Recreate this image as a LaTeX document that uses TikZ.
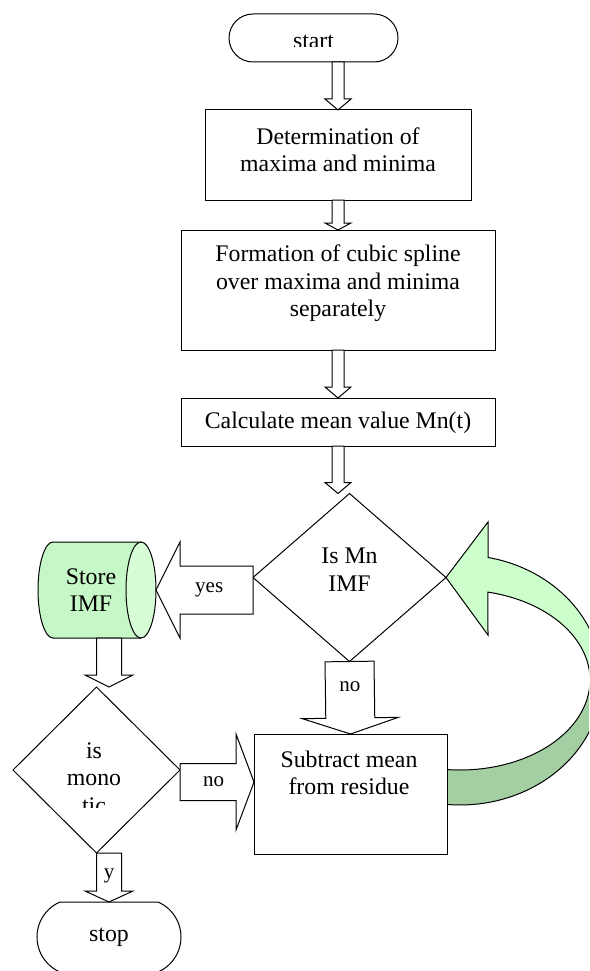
\documentclass[tikz,border=0pt]{standalone}
\usepackage{fontspec}
\setmainfont{Liberation Serif}
\usetikzlibrary{calc,shapes.geometric,shapes.misc}
\definecolor{mintlight}{HTML}{CCFFCC}
\definecolor{mintdark}{HTML}{A3CFA3}
\definecolor{mintbody}{HTML}{C6F7C6}
\definecolor{mintface}{HTML}{D6FDD6}
\tikzset{
	flowline/.style={line width=1pt, draw=black, line join=miter},
	terminal/.style={rounded rectangle, flowline, fill=white, outer sep=0pt, inner sep=0pt},
	procbox/.style={rectangle, flowline, fill=white, outer sep=0pt, inner sep=0pt},
	decision/.style={diamond, flowline, fill=white, outer sep=0pt, inner sep=0pt},
	flowtext/.style={font=\fontsize{23.8}{27.5}\selectfont, align=center, inner sep=0pt},
	arrowtext/.style={font=\fontsize{21}{24}\selectfont, inner sep=0pt},
	fatarrow/.style={flowline, fill=white}
}
\def\blockarrow[#1](#2)(#3)(#4:#5:#6){%
	\coordinate (ba) at (#2);
	\coordinate (bt) at (#3);
	\coordinate (bh) at ($(bt)!#6pt!(ba)$);
	\draw[#1] ($(ba)!#4pt!90:(bt)$) -- ($(bh)!#4pt!-90:(ba)$) -- ($(bh)!#5pt!-90:(ba)$) -- (bt) -- ($(bh)!#5pt!90:(ba)$) -- ($(bh)!#4pt!90:(ba)$) -- ($(ba)!#4pt!-90:(bt)$) -- cycle;}

\begin{document}
\begin{tikzpicture}[x=1pt, y=1pt]
		%%%%% START %%%%%
		\useasboundingbox (0, 0) rectangle (589, -971);
		\clip (0, 0) rectangle (589, -971);
		
		\node[terminal, minimum width=169pt, minimum height=48pt] (start) at (313.5, -38) {};
		\begin{scope}
			\clip (start.north west) rectangle ($(start.east)+(0, -9)$);
			\node[flowtext] (starttext) at ($(start)+(0, -3.5)$) {start};
		\end{scope}
		
		\node[procbox, minimum width=266pt, minimum height=90pt] (det) at (338, -155) {};
		\node[flowtext] (dettext) at ($(det)+(0, 5.5)$) {Determination of\\maxima and minima};
		
		\node[procbox, minimum width=314pt, minimum height=120pt] (form) at (338, -290) {};
		\node[flowtext] (formtext) at ($(form)+(0, 6.5)$) {Formation of cubic spline\\over maxima and minima\\separately};
		
		\node[procbox, minimum width=314pt, minimum height=48pt] (calc) at (338, -422) {};
		\node[flowtext] (calctext) at ($(calc)+(0, -1)$) {Calculate mean value Mn(t)};
		
		\node[decision, minimum width=193pt, minimum height=168pt] (ismn) at (349.5, -577.5) {};
		\node[flowtext] (ismntext) at ($(ismn)+(0, 8)$) {Is Mn\\IMF};
		
		% store cylinder
		\node[minimum width=118pt, minimum height=96pt, inner sep=0pt, outer sep=0pt] (store) at (97, -590) {};
		\fill[mintbody] ($(store.north west)+(15, 0)$) arc[start angle=90, end angle=270, x radius=15, y radius=48] -- ($(store.south east)+(-15, 0)$) arc[start angle=-90, end angle=90, x radius=15, y radius=48] -- cycle;
		\draw[flowline] ($(store.north east)+(-15, 0)$) -- ($(store.north west)+(15, 0)$) arc[start angle=90, end angle=270, x radius=15, y radius=48] -- ($(store.south east)+(-15, 0)$);
		\draw[flowline, fill=mintface] ($(store.east)+(-15, 0)$) ellipse [x radius=15, y radius=48];
		\node[flowtext] (storetext) at ($(store)+(-6, 0)$) {Store\\IMF};
		
		\node[decision, minimum width=167pt, minimum height=166pt] (mono) at (96.5, -770) {};
		\begin{scope}
			\clip ($(mono.west)+(0, 60)$) rectangle ($(mono.east)+(0, -37)$);
			\node[flowtext] (monotext) at ($(mono)+(-2.5, -8)$) {is\\mono\\tic};
		\end{scope}
		
		% loop back arrow
		\coordinate (loopc) at ($(ismn.east)+(14, -102.5)$);
		\draw[flowline, fill=mintdark] ($(loopc)+(0:142 and 125)$) arc[start angle=0, end angle=-95.3, x radius=142, y radius=125] -- ($(loopc)+(-95.7:130 and 90)$) arc[start angle=-95.7, end angle=0, x radius=130, y radius=90] -- cycle;
		\draw[flowline, fill=mintlight] (ismn.east) -- ++(42, 55.5) -- ($(loopc)+(78.6:142 and 125)$) arc[start angle=78.6, end angle=0, x radius=142, y radius=125] -- ($(loopc)+(0:130 and 90)$) arc[start angle=0, end angle=77.6, x radius=130, y radius=90] -- ($(ismn.east)+(42, -57.5)$) -- cycle;
		
		\node[procbox, minimum width=193pt, minimum height=120pt] (sub) at (350.5, -794) {};
		\node[flowtext] (subtext) at ($(sub)+(-1.5, 21)$) {Subtract mean\\from residue};
		
		\node[terminal, rounded rectangle arc length=133, minimum width=144pt, minimum height=70pt] (stop) at (109, -937) {};
		\node[flowtext] (stoptext) at (stop) {stop};
		
		% block arrows
		\blockarrow[fatarrow](det.north |- start.south)(det.north)(6:13:11);
		\blockarrow[fatarrow](det.south)(form.north)(6:13:7);
		\blockarrow[fatarrow](form.south)(calc.north)(6:13:11);
		\blockarrow[fatarrow](calc.south)(calc.south |- ismn.north)(6:13:11);
		
		\blockarrow[fatarrow](ismn.west |- store.east)(store.east)(24:48:24);
		\node[arrowtext] (yestext) at ($(ba)!0.6!(bh)$) {yes};
		
		\blockarrow[fatarrow](ismn.south)(sub.north)(24.5:48:16);
		\node[arrowtext] (notext) at ($(ba)!0.45!(bh)$) {no};
		
		\coordinate (storeout) at (store.south -| stop.north);
		\blockarrow[fatarrow](storeout)(storeout |- mono.north)(12.5:24:12);
		
		\blockarrow[fatarrow]({$(mono.east)+(0, -12)$})(sub.west |- ba)(18.5:48:18);
		\node[arrowtext] (monono) at ($(ba)!0.6!(bh)$) {no};
		
		\blockarrow[fatarrow](mono.south -| stop.north)(stop.north)(12.5:24:11);
		\node[arrowtext] (monoyes) at ($(ba)!0.6!(bh)$) {y};
		%%%%% END %%%%%
\end{tikzpicture}
\end{document}
